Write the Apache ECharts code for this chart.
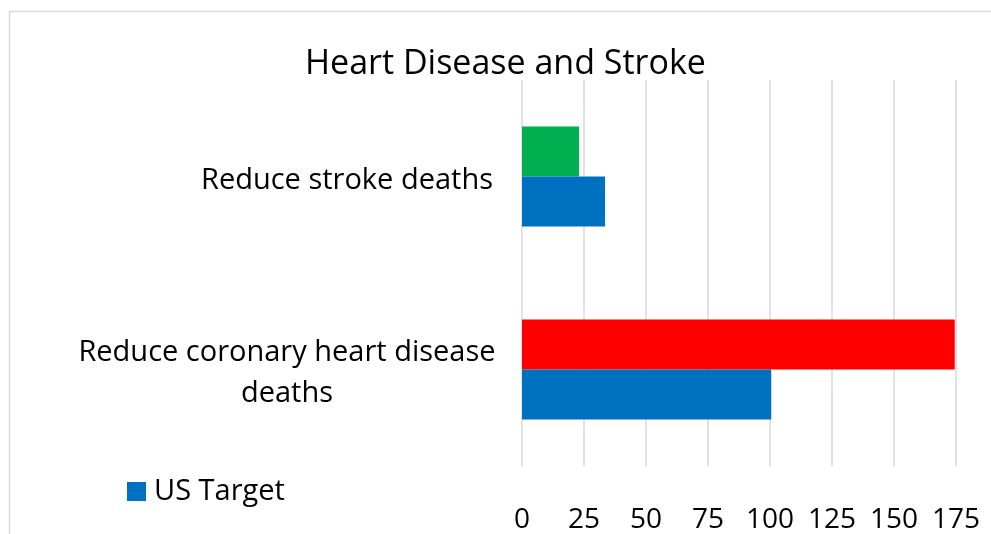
<!DOCTYPE html>
<html>
<head>
<meta charset="utf-8">
<script src="https://cdn.jsdelivr.net/npm/echarts@6/dist/echarts.min.js"></script>
<style>
  html, body { margin: 0; padding: 0; background: #ffffff; }
  #chart { width: 991px; height: 534px; }
</style>
</head>
<body>
<div id="chart"></div>
<script>
// Goals, bottom to top on the category axis
const categories = ['Reduce coronary heart disease deaths', 'Reduce stroke deaths'];
// National target rates
const usTarget = [100.5, 33.5];
// Current rates, shown against the target
const current = [174.5, 23];
const tickValues = [0, 25, 50, 75, 100, 125, 150, 175];

const currentColors = ['#FF0000', '#00B050'];
const FONT = '"Open Sans", "Noto Sans", sans-serif';

const chart = echarts.init(document.getElementById('chart'), null, { renderer: 'canvas' });

chart.setOption({
  backgroundColor: '#ffffff',
  animation: false,
  title: {
    text: 'Heart Disease and Stroke',
    left: 300,
    top: 42,
    textStyle: { fontFamily: FONT, fontSize: 34, fontWeight: 'normal', color: '#000000' }
  },
  legend: {
    data: ['US Target'],
    left: 127,
    top: 477,
    padding: 0,
    itemWidth: 19,
    itemHeight: 19,
    itemGap: 9,
    icon: 'rect',
    textStyle: { fontFamily: FONT, fontSize: 29, color: '#000000', padding: [0, 0, 0, 3] }
  },
  grid: { left: 522, right: 35, top: 80, bottom: 68, containLabel: false },
  xAxis: {
    type: 'value',
    min: tickValues[0],
    max: tickValues[tickValues.length - 1],
    interval: 25,
    axisLine: { show: false },
    axisTick: { show: false },
    splitLine: { show: true, lineStyle: { color: '#D9D9D9', width: 1.5 } },
    axisLabel: { fontFamily: FONT, fontSize: 28, color: '#000000', margin: 40 }
  },
  yAxis: {
    type: 'category',
    data: categories,
    axisLine: { show: false },
    axisTick: { show: false },
    axisLabel: {
      margin: 29,
      align: 'right',
      padding: [8, 0, 0, 0],
      fontFamily: FONT,
      fontSize: 29,
      color: '#000000',
      formatter: function (v) {
        if (v === 'Reduce coronary heart disease deaths') {
          return '{c|Reduce coronary heart disease}\n{c|deaths}';
        }
        return v;
      },
      rich: {
        c: { fontFamily: FONT, fontSize: 29, color: '#000000', width: 412, align: 'center', lineHeight: 41 }
      }
    }
  },
  graphic: [{
    type: 'rect',
    silent: true,
    shape: { x: 9.5, y: 11.5, width: 1100, height: 700 },
    style: { fill: 'none', stroke: '#D9D9D9', lineWidth: 1.5 }
  }],
  series: [
    {
      name: 'Current',
      type: 'bar',
      data: current.map((v, i) => ({ value: v, itemStyle: { color: currentColors[i] } })),
      barWidth: 50,
      barGap: '0%',
      itemStyle: { color: '#FF0000' }
    },
    {
      name: 'US Target',
      type: 'bar',
      data: usTarget,
      barWidth: 50,
      barGap: '0%',
      itemStyle: { color: '#0070C0' }
    }
  ]
});
</script>
</body>
</html>
